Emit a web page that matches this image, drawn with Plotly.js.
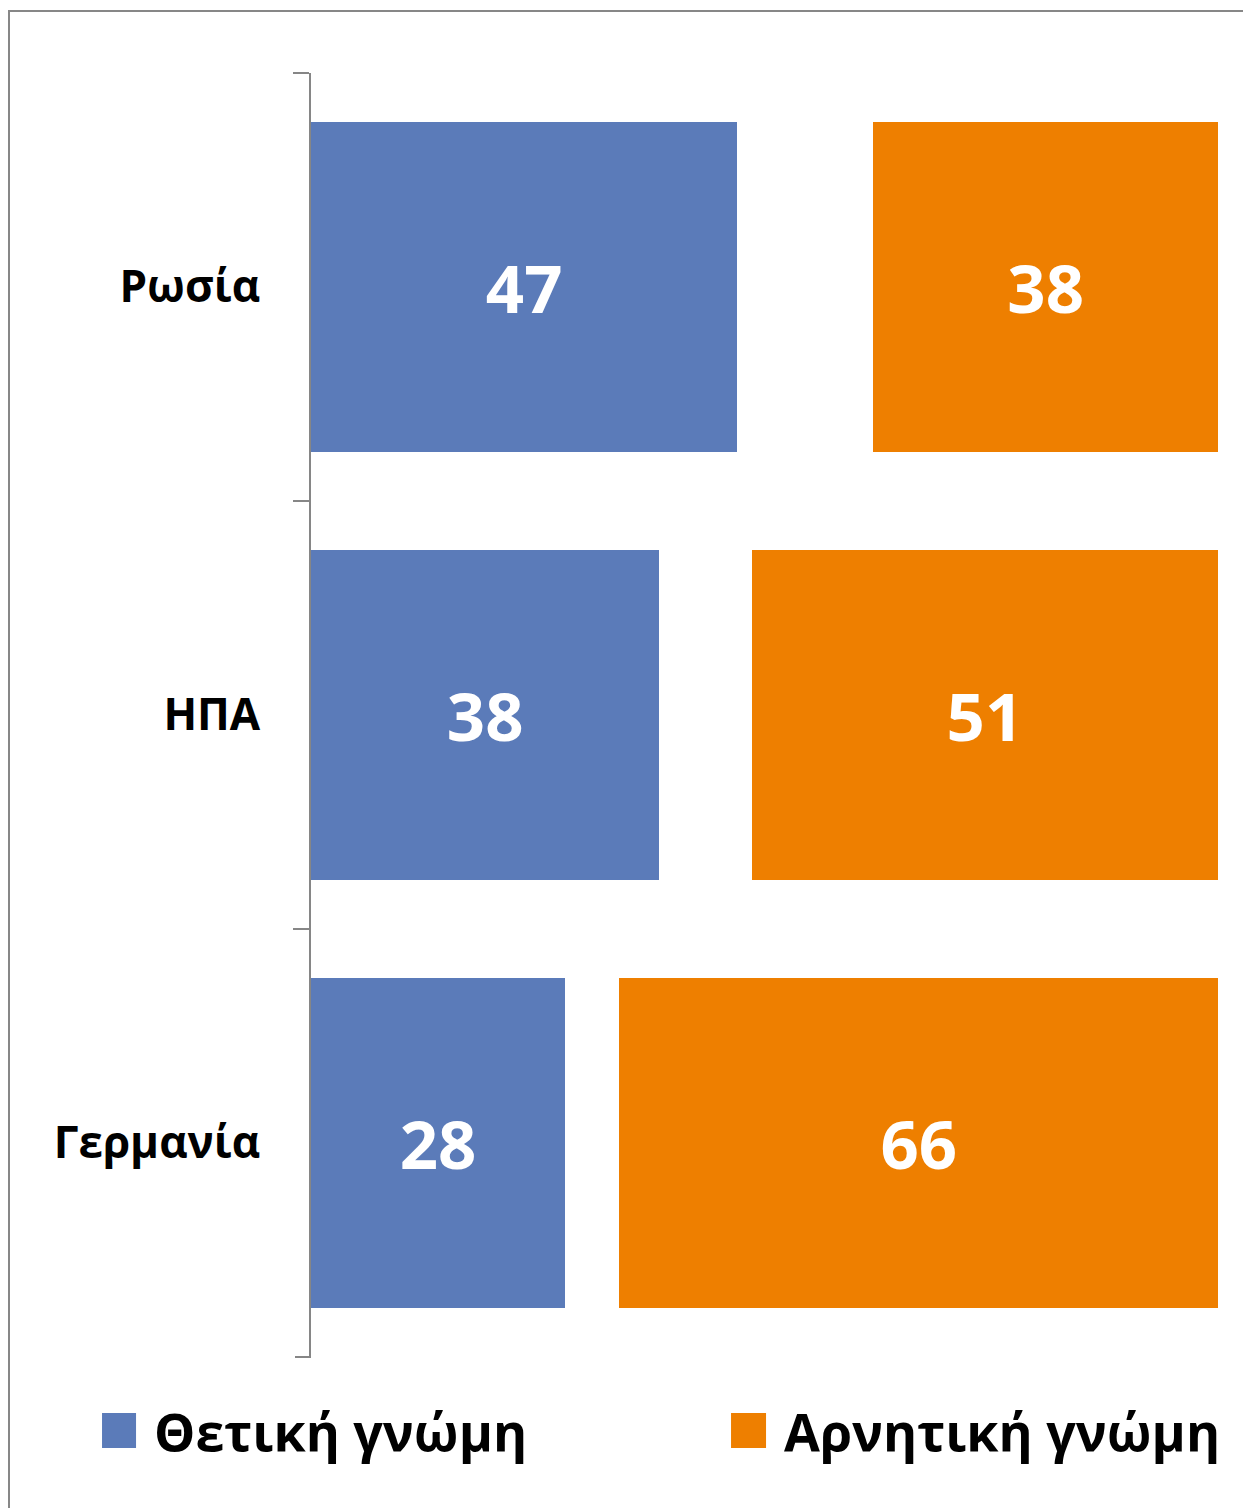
<!DOCTYPE html>
<html>
<head>
<meta charset="utf-8">
<script src="https://cdn.plot.ly/plotly-3.0.1.min.js"></script>
<style>
  html, body { margin:0; padding:0; background:#fff; overflow:hidden; }
  #wrap { position:relative; width:1243px; height:1508px; }
  #chart { position:absolute; left:0; top:0; width:1243px; height:1508px; }
  #frame { position:absolute; left:8px; top:10px; width:1300px; height:1600px;
           border:2px solid #878787; pointer-events:none; box-sizing:border-box; }
</style>
</head>
<body>
<div id="wrap">
  <div id="chart"></div>
  <div id="frame"></div>
</div>
<script>
// Data
const categories = ['Ρωσία', 'ΗΠΑ', 'Γερμανία'];
const positive = [47, 38.4, 28];
const noAnswer = [15, 10.2, 6];
const negative = [38, 51.4, 66];
const seriesNames = ['Θετική γνώμη', 'Δ.Γ./Δ.Α.', 'Αρνητική γνώμη'];

const blue = '#5B7BB9';
const orange = '#EE7F00';
const font = '"Open Sans", "Noto Sans", sans-serif';

const labelFont = {family: font, size: 67, color: '#ffffff', weight: 'bold'};

const traces = [
  {
    type: 'bar', orientation: 'h', name: seriesNames[0],
    y: categories, x: positive,
    marker: {color: blue},
    text: positive.map(v => String(Math.round(v))), textposition: 'inside', insidetextanchor: 'middle',
    textfont: labelFont, hoverinfo: 'x+name', showlegend: false
  },
  {
    type: 'bar', orientation: 'h', name: seriesNames[1],
    y: categories, x: noAnswer,
    marker: {color: 'rgba(0,0,0,0)'},
    hoverinfo: 'skip', showlegend: false
  },
  {
    type: 'bar', orientation: 'h', name: seriesNames[2],
    y: categories, x: negative,
    marker: {color: orange},
    text: negative.map(v => String(Math.round(v))), textposition: 'inside', insidetextanchor: 'middle',
    textfont: labelFont, hoverinfo: 'x+name', showlegend: false
  }
];

// Legend drawn as shapes + text (paper coordinates)
const legendFont = {family: font, size: 52, color: '#000000', weight: 'bold'};
const legendColors = [blue, orange];
const legendNames = [seriesNames[0], seriesNames[2]];
const legendSymX = [[-0.2304, -0.1929], [0.4631, 0.5017]];
const legendTextX = [-0.1755, 0.5193];

const shapes = legendColors.map((c, i) => ({
  type: 'rect', xref: 'paper', yref: 'paper',
  x0: legendSymX[i][0], x1: legendSymX[i][1], y0: -0.0709, y1: -0.0436,
  fillcolor: c, line: {width: 0}
}));
// bottom boundary tick of the category axis
shapes.push({
  type: 'line', xref: 'paper', yref: 'paper',
  x0: -16 / 907, x1: 0, y0: 0, y1: 0,
  line: {color: '#868686', width: 2}
});
const annotations = legendNames.map((n, i) => ({
  xref: 'paper', yref: 'paper', x: legendTextX[i], y: -0.0575,
  xanchor: 'left', yanchor: 'middle', text: n, showarrow: false, font: legendFont
}));

const layout = {
  width: 1243, height: 1508,
  margin: {l: 311, r: 25, t: 73, b: 151},
  paper_bgcolor: '#ffffff', plot_bgcolor: '#ffffff',
  barmode: 'stack', bargap: 0.227,
  showlegend: false,
  xaxis: {range: [0, 100], visible: false, fixedrange: true},
  yaxis: {
    type: 'category', categoryorder: 'array', categoryarray: categories,
    autorange: 'reversed',
    showline: true, linecolor: '#868686', linewidth: 2,
    ticks: 'outside', tickson: 'boundaries', ticklen: 16, tickwidth: 2, tickcolor: '#868686',
    showgrid: false, zeroline: false,
    ticklabelstandoff: 40,
    tickfont: {family: font, size: 44, color: '#000000', weight: 'bold'}
  },
  shapes: shapes,
  annotations: annotations
};

Plotly.newPlot('chart', traces, layout, {displayModeBar: false, staticPlot: true});
</script>
</body>
</html>
